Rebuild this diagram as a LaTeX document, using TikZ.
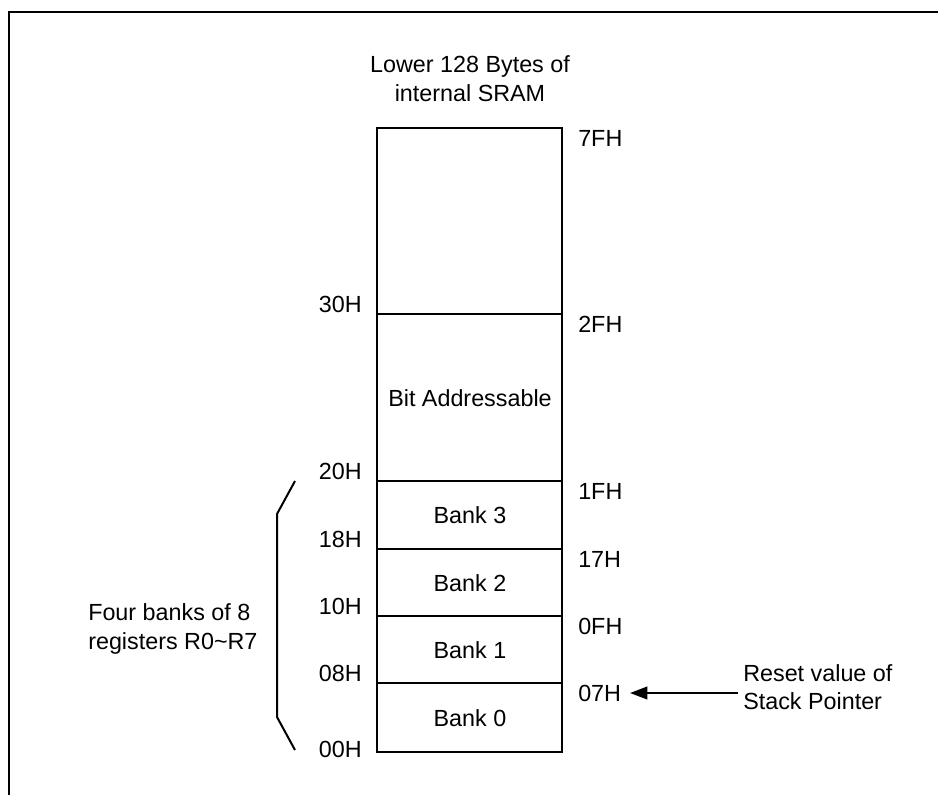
\documentclass[tikz,border=0pt]{standalone}
\usepackage{fontspec}
\setmainfont{Liberation Sans}
\usetikzlibrary{arrows.meta,positioning}
\tikzset{addr/.style={inner sep=0pt},
  divider/.style={line width=1.5pt}}
\begin{document}
\begin{tikzpicture}[x=0.75pt,y=-0.75pt,font=\fontsize{17.5}{21.5}\selectfont]
\useasboundingbox (0,0) rectangle (938,795);
% frame
\draw[line width=2pt] (9,795)--(9,12)--(938,12);
% lower 128 bytes
\node[addr,align=center] (title) at (470,79) {Lower 128 Bytes of\\internal SRAM};
\draw[line width=1pt] (377,128) rectangle (562,752);
\node[addr,anchor=west] (a7FH) at (578,138) {7FH};
\foreach \y/\lo/\hi in {314/30H/2FH,481/20H/1FH,549/18H/17H,616/10H/0FH,683/08H/07H}{
  \draw[divider] (377,\y)--(562,\y);
  \node[addr,anchor=east] (a\lo) at (362,\y-10) {\lo};
  \node[addr,anchor=west] (a\hi) at (578,\y+10) {\hi};
}
\node[addr,anchor=east] (a00H) at (362,749) {00H};
\foreach \y/\t in {398/Bit Addressable,515/Bank 3,583/Bank 2,650/Bank 1,718/Bank 0}
  \node[addr] (b\y) at (470,\y) {\t};
% register banks
\draw[divider] (295,481)--(277,514)--(277,717)--(295,750);
\node[addr,align=left,anchor=west] (regs) at (88,629) {Four banks of 8\\registers R0\textasciitilde R7};
% stack pointer
\node[addr,align=left,anchor=west] (reset) at (743,687) {Reset value of\\Stack Pointer};
\draw[line width=1.4pt,-{Triangle[length=13pt,width=9.5pt]},shorten >=6.5pt]
  ([xshift=-4pt]reset.west |- a07H.east) -- (a07H.east);
\end{tikzpicture}
\end{document}
